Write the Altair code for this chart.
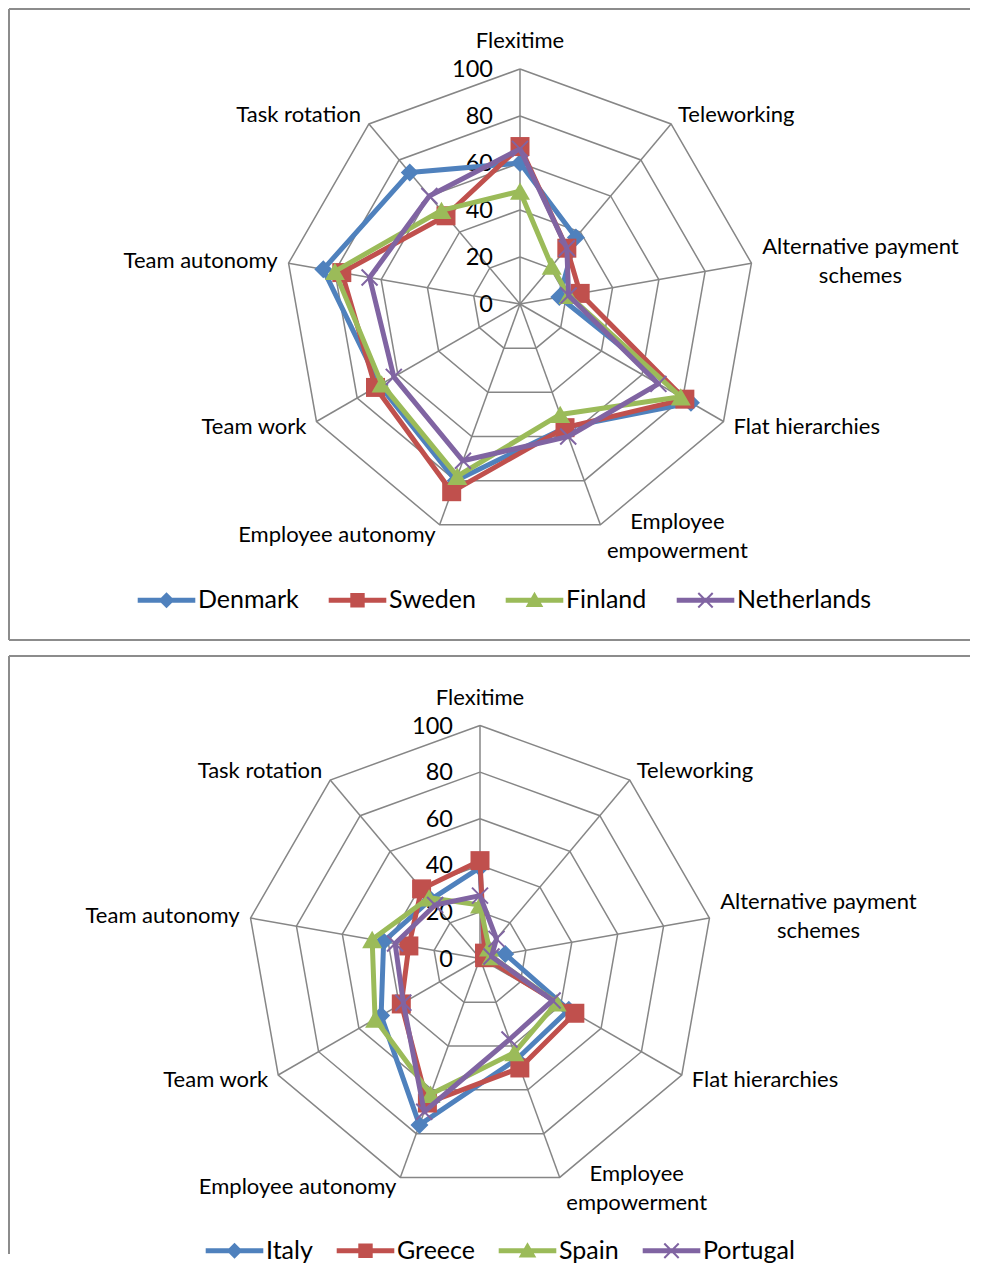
import altair as alt
import pandas as pd

# ---------------- data ----------------
CATEGORIES = ["Flexitime", "Teleworking", "Alternative payment\nschemes", "Flat hierarchies",
              "Employee\nempowerment", "Employee autonomy", "Team work", "Team autonomy",
              "Task rotation"]
TICKS = [0, 20, 40, 60, 80, 100]

NORTH = ["Denmark", "Sweden", "Finland", "Netherlands"]
DENMARK = [60, 37, 17, 84, 56, 80, 69, 85, 73]
SWEDEN = [67, 31, 26, 81, 56, 85, 71, 77, 49]
FINLAND = [48, 21, 21, 79, 50, 78, 68, 80, 52]
NETHERLANDS = [66, 31, 21, 68, 60, 71, 62, 65, 60]

SOUTH = ["Italy", "Greece", "Spain", "Portugal"]
ITALY = [39, 3, 11, 44, 46, 76, 49, 42, 33]
GREECE = [42, 3, 2, 47, 50, 66, 39, 31, 39]
SPAIN = [23, 6, 5, 38, 43, 62, 52, 47, 34]
PORTUGAL = [27, 11, 5, 36, 37, 70, 38, 37, 30]

# ---------------- style ----------------
COLORS = ["#4F81BD", "#C0504D", "#9BBB59", "#8064A2"]
FONT = "Lato"
GRID = "#868686"
FRAME = "#8c8c8c"
N = len(CATEGORIES)
W = 962

# (align, dx, dy) for each category label around the web
LABEL_LAYOUT = [("center", 0, -28), ("left", 7, -9), ("center", 109, -16), ("left", 10, 5),
                ("center", 77, -3), ("right", -4, 10), ("right", -10, 5), ("right", -11, -2),
                ("right", -8, -9)]

X_PATH = "M-1,-1L1,1M-1,1L1,-1"
MARKERS = [("diamond", 324, True), ("square", 361, True), ("triangle-up", 400, True),
           (X_PATH, 256, False)]

BAR = "M-3.6,-0.31H3.6V0.31H-3.6Z"
LEGEND_PATHS = [
    BAR + "M0,-1L1,0L0,1L-1,0Z",
    BAR + "M-0.9,-0.9H0.9V0.9H-0.9Z",
    BAR + "M0,-1.05L1.1,0.85H-1.1Z",
    BAR + "M-0.812,-0.988L0.988,0.812L0.812,0.988L-0.988,-0.812Z"
          "M-0.812,0.988L-0.988,0.812L0.812,-0.988L0.988,-0.812Z",
]


def polar(ch):
    return ch.transform_calculate(
        x=f"datum.value * sin(2 * PI * datum.idx / {N})",
        y=f"datum.value * cos(2 * PI * datum.idx / {N})",
    )


def long_table(names, values):
    rows = []
    for s, vals in zip(names, values):
        for i in range(N + 1):
            rows.append({"series": s, "idx": i, "value": vals[i % N]})
    return pd.DataFrame(rows)


def panel(names, values, H, k, cx, cy, lx, ly, colpad, bottom_frame=True):
    xs = alt.Scale(domain=[-cx / k, (W - cx) / k], nice=False, zero=False)
    ys = alt.Scale(domain=[-(H - cy) / k, cy / k], nice=False, zero=False)
    X = alt.X("x:Q", scale=xs, axis=None)
    Y = alt.Y("y:Q", scale=ys, axis=None)
    one = alt.Data(values=[{"a": 1}])
    layers = []

    # frame
    layers.append(alt.Chart(one).mark_rule(color=FRAME, strokeWidth=2).encode(
        x=alt.value(1), x2=alt.value(W), y=alt.value(1)))
    layers.append(alt.Chart(one).mark_rule(color=FRAME, strokeWidth=2).encode(
        x=alt.value(1), y=alt.value(1), y2=alt.value(H - 1)))
    if bottom_frame:
        layers.append(alt.Chart(one).mark_rule(color=FRAME, strokeWidth=2).encode(
            x=alt.value(1), x2=alt.value(W), y=alt.value(H - 1)))

    # rings
    ring_df = pd.DataFrame([{"level": l, "idx": i, "value": l}
                            for l in TICKS[1:] for i in range(N + 1)])
    layers.append(polar(alt.Chart(ring_df)).mark_line(color=GRID, strokeWidth=1.5).encode(
        x=X, y=Y, detail="level:N", order="idx:Q"))

    # spokes
    spoke_df = pd.DataFrame({"idx": list(range(N)), "value": [TICKS[-1]] * N})
    layers.append(polar(alt.Chart(spoke_df)).transform_calculate(x0="0", y0="0")
                  .mark_rule(color=GRID, strokeWidth=1.5).encode(
        x=alt.X("x0:Q", scale=xs, axis=None), y=alt.Y("y0:Q", scale=ys, axis=None),
        x2="x:Q", y2="y:Q"))

    # tick labels
    tick_df = pd.DataFrame({"value": TICKS, "idx": [0] * len(TICKS),
                            "label": [str(t) for t in TICKS]})
    layers.append(polar(alt.Chart(tick_df)).mark_text(
        align="right", baseline="middle", dx=-27, dy=1, font=FONT, fontSize=23.5, color="black"
    ).encode(x=X, y=Y, text="label:N"))

    # category labels
    for i, (cat, (al, dx, dy)) in enumerate(zip(CATEGORIES, LABEL_LAYOUT)):
        df = pd.DataFrame({"idx": [i], "value": [TICKS[-1]], "label": [cat]})
        layers.append(polar(alt.Chart(df)).mark_text(
            align=al, baseline="middle", dx=dx, dy=dy, lineBreak="\n", lineHeight=29,
            font=FONT, fontSize=22, color="black"
        ).encode(x=X, y=Y, text="label:N"))

    # series
    data = long_table(names, values)
    for j, s in enumerate(names):
        base = polar(alt.Chart(data).transform_filter(alt.datum.series == s))
        layers.append(base.mark_line(color=COLORS[j], strokeWidth=5, strokeJoin="round")
                      .encode(x=X, y=Y, order="idx:Q"))
        shape, size, filled = MARKERS[j]
        if filled:
            mk = base.transform_filter(alt.datum.idx < N).mark_point(
                shape=shape, size=size, filled=True, color=COLORS[j], opacity=1, strokeWidth=0)
        else:
            mk = base.transform_filter(alt.datum.idx < N).mark_point(
                shape=shape, size=size, filled=False, color=COLORS[j], opacity=1, strokeWidth=2)
        layers.append(mk.encode(x=X, y=Y))

    # legend
    leg = alt.Legend(orient="none", legendX=lx, legendY=ly, direction="horizontal", columns=4,
                     title=None, symbolSize=256, labelFont=FONT, labelFontSize=25,
                     labelColor="black", labelOffset=19, columnPadding=colpad, padding=0,
                     symbolStrokeWidth=0, labelBaseline="middle")
    layers.append(polar(alt.Chart(data)).transform_filter("false").mark_point(
        filled=True, opacity=1, strokeWidth=0).encode(
        x=X, y=Y,
        color=alt.Color("series:N", scale=alt.Scale(domain=names, range=COLORS), legend=leg),
        shape=alt.Shape("series:N", scale=alt.Scale(domain=names, range=LEGEND_PATHS), legend=leg),
    ))

    return alt.layer(*layers).properties(width=W, height=H)


top = panel(NORTH, [DENMARK, SWEDEN, FINLAND, NETHERLANDS],
            H=633, k=2.35, cx=512, cy=296, lx=146, ly=579.5, colpad=29)
bottom = panel(SOUTH, [ITALY, GREECE, SPAIN, PORTUGAL],
               H=600, k=2.33, cx=472, cy=303.5, lx=214, ly=583, colpad=23,
               bottom_frame=False)

chart = (alt.vconcat(top, bottom, spacing=14)
         .resolve_scale(color="independent", shape="independent", x="independent", y="independent")
         .resolve_legend(color="independent", shape="independent")
         .properties(padding=0, background="white")
         .configure_view(stroke="transparent", strokeWidth=0))

chart.save("out.html", embed_options={"renderer": "svg", "actions": False})
